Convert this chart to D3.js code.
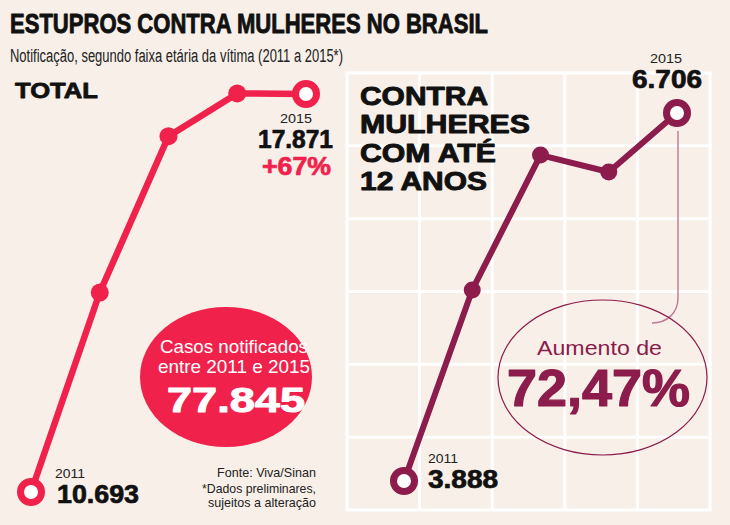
<!DOCTYPE html>
<html><head><meta charset="utf-8">
<script src="https://cdn.jsdelivr.net/npm/d3@7"></script>
<style>html,body{margin:0;padding:0;background:#f7efe8;}svg{display:block;}</style>
</head><body>
<svg id="c" width="730" height="525"></svg>
<script>
const years = ["2011","2012","2013","2014","2015"];
const totalValues = [10693, 14290, 17110, 17881, 17871];
const childValues = [3888, 5351, 6384, 6254, 6706];
const totalCases = "77.845";
const childIncrease = "72,47%";
const totalIncrease = "+67%";
const gridRows = [0,1,2,3,4,5,6];
const gridCols = [0,1,2,3,4,5];

const RED = "#f0224c", MAROON = "#8b1c4b", BG = "#f7efe8", FONT = "'Liberation Sans', Arial, sans-serif";
const svg = d3.select("#c");
svg.append("rect").attr("width",730).attr("height",525).attr("fill",BG);

// grid for right panel
const gx = d3.scaleLinear().domain([0,5]).range([347,710]);
const gy = d3.scaleLinear().domain([0,6]).range([73,510]);
const grid = svg.append("g").attr("stroke","#ffffff").attr("stroke-width",3);
grid.selectAll("line.h").data(gridRows).join("line").attr("class","h")
  .attr("x1",gx(0)-1.5).attr("x2",gx(5)+1.5).attr("y1",d=>gy(d)).attr("y2",d=>gy(d));
grid.selectAll("line.v").data(gridCols).join("line").attr("class","v")
  .attr("y1",gy(0)).attr("y2",gy(6)).attr("x1",d=>gx(d)).attr("x2",d=>gx(d));

function txt(x,y,s,size,opts={}){
  const fill = opts.fill||"#111";
  const t = svg.append("text").attr("x",x).attr("y",y).text(s)
    .attr("font-family",FONT).attr("font-size",size)
    .attr("font-weight",opts.bold?"bold":"normal")
    .attr("fill",fill);
  if(opts.heavy){ t.attr("stroke",fill).attr("stroke-width",opts.heavy).attr("stroke-linejoin","round"); }
  if(opts.w){ t.attr("textLength",opts.w).attr("lengthAdjust","spacingAndGlyphs"); }
  if(opts.anchor) t.attr("text-anchor",opts.anchor);
  return t;
}

// Title
txt(10,33,"ESTUPROS CONTRA MULHERES NO BRASIL",28,{bold:true,w:478,heavy:0.9});
txt(10,62,"Notificação, segundo faixa etária da vítima (2011 a 2015*)",18,{w:333,fill:"#222"});

// Left chart
const xL = d3.scalePoint().domain(years).range([31,306]);
const yL = d3.scaleLinear().domain([10693,17871]).range([492,94]);
const dataL = years.map((y,i)=>({y, v: totalValues[i]}));
svg.append("path").datum(dataL)
  .attr("d", d3.line().x(d=>xL(d.y)).y(d=>yL(d.v)))
  .attr("fill","none").attr("stroke",RED).attr("stroke-width",6.5).attr("stroke-linejoin","round");
svg.selectAll("circle.l").data(dataL).join("circle").attr("class","l")
  .attr("cx",d=>xL(d.y)).attr("cy",d=>yL(d.v))
  .attr("r",(d,i)=> (i===0||i===4)?10.5:9)
  .attr("fill",(d,i)=> (i===0||i===4)?"#ffffff":RED)
  .attr("stroke",RED).attr("stroke-width",(d,i)=> (i===0||i===4)?7:0);

txt(15,98,"TOTAL",22,{bold:true,w:83,heavy:0.8});
txt(280,123,"2015",12.5,{w:32,fill:"#222"});
txt(258,148,"17.871",25,{bold:true,w:75,heavy:0.7});
txt(262,175,totalIncrease,25,{bold:true,w:69,fill:RED,heavy:0.7});
txt(55,478,"2011",12.5,{w:30,fill:"#222"});
txt(57,503,"10.693",25,{bold:true,w:82,heavy:0.7});

// red ellipse
svg.append("ellipse").attr("cx",226).attr("cy",377).attr("rx",86).attr("ry",70).attr("fill",RED);
txt(160,353,"Casos notificados",19,{w:148,fill:"#fff"});
txt(158,373,"entre 2011 e 2015",19,{w:152,fill:"#fff"});
txt(167,412,totalCases,35,{bold:true,w:138,fill:"#fff",heavy:1});

// footnote
txt(217,477,"Fonte: Viva/Sinan",13.5,{w:99,fill:"#222"});
txt(202,493,"*Dados preliminares,",13.5,{w:114,fill:"#222"});
txt(208,507,"sujeitos a alteração",13.5,{w:108,fill:"#222"});

// Right chart
txt(360,105,"CONTRA",25,{bold:true,w:128,heavy:0.9});
txt(360,133,"MULHERES",25,{bold:true,w:170,heavy:0.9});
txt(360,162,"COM ATÉ",25,{bold:true,w:136,heavy:0.9});
txt(360,190,"12 ANOS",25,{bold:true,w:127,heavy:0.9});

const xR = d3.scalePoint().domain(years).range([404,677]);
const yR = d3.scaleLinear().domain([3888,6706]).range([481,113]);
const dataR = years.map((y,i)=>({y, v: childValues[i]}));

// connector from 2015 to ellipse
const cx15 = xR("2015"), cy15 = yR(6706);
svg.append("path")
  .attr("d",`M${cx15+1},${cy15+18} L${cx15+1},${cy15+185} C${cx15+1},${cy15+200} ${cx15-10},${cy15+210} ${cx15-25},${cy15+210}`)
  .attr("fill","none").attr("stroke","#b97a98").attr("stroke-width",1.4);

svg.append("path").datum(dataR)
  .attr("d", d3.line().x(d=>xR(d.y)).y(d=>yR(d.v)))
  .attr("fill","none").attr("stroke",MAROON).attr("stroke-width",6).attr("stroke-linejoin","round");
svg.selectAll("circle.r").data(dataR).join("circle").attr("class","r")
  .attr("cx",d=>xR(d.y)).attr("cy",d=>yR(d.v))
  .attr("r",(d,i)=> (i===0||i===4)?10.5:8.5)
  .attr("fill",(d,i)=> (i===0||i===4)?"#ffffff":MAROON)
  .attr("stroke",MAROON).attr("stroke-width",(d,i)=> (i===0||i===4)?7:0);

txt(650,63,"2015",12.5,{w:32,fill:"#222"});
txt(632,88,"6.706",25,{bold:true,w:70,heavy:0.7});
txt(428,463,"2011",12.5,{w:30,fill:"#222"});
txt(428,488,"3.888",25,{bold:true,w:70,heavy:0.7});

svg.append("ellipse").attr("cx",602.5).attr("cy",377.5).attr("rx",104.5).attr("ry",77.5)
  .attr("fill","none").attr("stroke",MAROON).attr("stroke-width",1.2);
txt(537,355,"Aumento de",21,{w:125,fill:MAROON});
txt(507,406,childIncrease,51,{bold:true,w:183,fill:MAROON,heavy:1.2});
</script>
</body></html>
